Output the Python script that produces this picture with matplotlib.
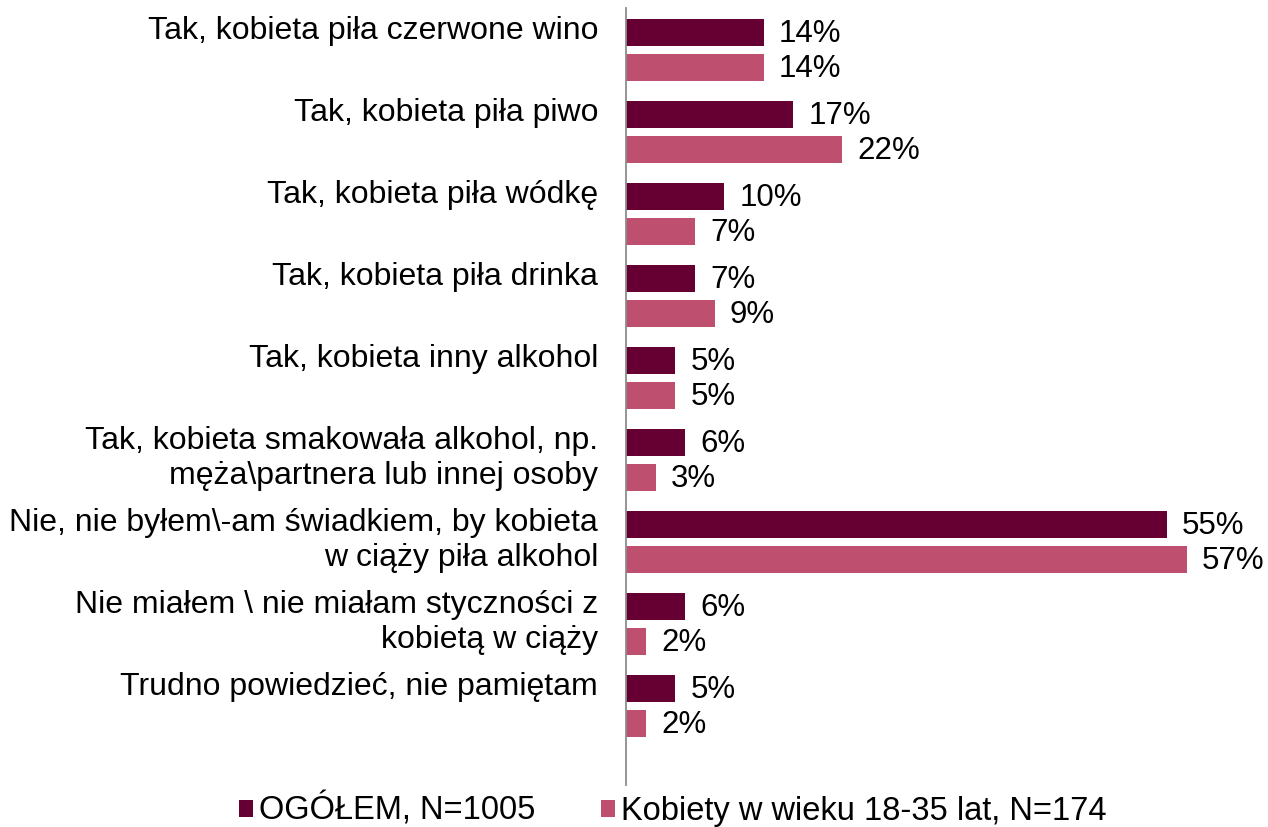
import matplotlib.pyplot as plt
from matplotlib.patches import Patch

categories = [
    "Tak, kobieta piła czerwone wino",
    "Tak, kobieta piła piwo",
    "Tak, kobieta piła wódkę",
    "Tak, kobieta piła drinka",
    "Tak, kobieta inny alkohol",
    "Tak, kobieta smakowała alkohol, np.\nmęża\\partnera lub innej osoby",
    "Nie, nie byłem\\-am świadkiem, by kobieta\nw ciąży piła alkohol",
    "Nie miałem \\ nie miałam styczności z\nkobietą w ciąży",
    "Trudno powiedzieć, nie pamiętam",
]
ogolem = [14, 17, 10, 7, 5, 6, 55, 6, 5]
kobiety = [14, 22, 7, 9, 5, 3, 57, 2, 2]
series_names = ["OGÓŁEM, N=1005", "Kobiety w wieku 18-35 lat, N=174"]
colors = ["#660033", "#BE4F6E"]

plt.rcParams["font.family"] = ["Liberation Sans", "DejaVu Sans"]
FS = 22.5

W, H = 1268, 827
fig = plt.figure(figsize=(W / 100, H / 100), dpi=100)
ax = fig.add_axes([626 / W, 1 - 785 / H, 590 / W, 777 / H])

off = 0.217
bh = 0.33
pos = list(range(len(categories)))
ax.barh([p - off for p in pos], ogolem, height=bh, color=colors[0])
ax.barh([p + off for p in pos], kobiety, height=bh, color=colors[1])

for p, a, b in zip(pos, ogolem, kobiety):
    ax.annotate(f"{a}%", (a, p - off), xytext=(11, -1), textcoords="offset points",
                va="center", ha="left", fontsize=FS, annotation_clip=False)
    ax.annotate(f"{b}%", (b, p + off), xytext=(11, -1), textcoords="offset points",
                va="center", ha="left", fontsize=FS, annotation_clip=False)

# category labels: first line next to the dark bar, second next to the pink bar
for p, cat in zip(pos, categories):
    for k, line in enumerate(cat.split("\n")):
        y = p - off + k * 2 * off
        ax.annotate(line, (0, y), xytext=(-20, 1), textcoords="offset points",
                    va="center", ha="right", fontsize=23, annotation_clip=False)

ax.set_xlim(0, 60)
ax.set_ylim(len(categories) - 1 + 0.963, -0.512)
for s in ["top", "right", "bottom"]:
    ax.spines[s].set_visible(False)
ax.spines["left"].set_color("#8c8c8c")
ax.spines["left"].set_linewidth(1.3)
ax.set_xticks([])
ax.set_yticks([])

handles = [Patch(facecolor=c) for c in colors]
fig.legend(handles, series_names, loc="center", bbox_to_anchor=(673 / W, 1 - 810 / H),
           ncol=2, frameon=False, fontsize=23.5, handlelength=0.42, handleheight=0.42,
           handletextpad=0.2, columnspacing=2.0, borderpad=0)

fig.savefig("out.png", dpi=100)
